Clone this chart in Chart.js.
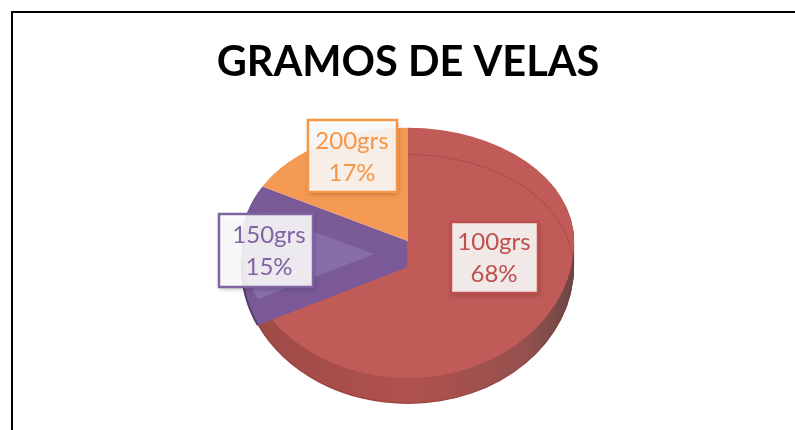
<!DOCTYPE html>
<html lang="en">
<head>
<meta charset="UTF-8">
<title>Gramos de velas</title>
<style>
  html, body { margin: 0; padding: 0; background: #fff; overflow: hidden; }
  #frame { position: absolute; left: 11px; top: 11px; right: -5px; bottom: -5px; border-left: 2px solid #000; border-top: 2px solid #000; }
  canvas { position: absolute; left: 0; top: 0; }
</style>
</head>
<body>
<div id="frame"></div>
<canvas id="chart" width="795" height="430"></canvas>
<script src="https://cdn.jsdelivr.net/npm/chart.js@4"></script>
<script>
  var categories = ['100grs', '150grs', '200grs'];
  var values = [68, 15, 17];

  var faceColors = ['#c05b58', '#7b5a98', '#f59a54'];
  var lineColors = ['#c0504d', '#8064a2', '#f79646'];
  var purpleLight = '#876eab';
  var boxes = [
    { x: 451, y: 222, w: 87, h: 71, textX: 494 },
    { x: 219, y: 214, w: 94, h: 73, textX: 269 },
    { x: 308, y: 120, w: 89, h: 72, textX: 352 }
  ];

  // perspective: the back half of the disc is flatter than the front half
  var backRatio = 113 / 166;
  var frontRatio = 137 / 166;
  var depth = 26;

  function inHalves(ctx, arc, dy, fn) {
    var midY = arc.y + dy;
    [[0, midY, backRatio], [midY, 430 - midY, frontRatio]].forEach(function(h) {
      ctx.save();
      ctx.beginPath();
      ctx.rect(0, h[0], 795, h[1]);
      ctx.clip();
      ctx.translate(arc.x, midY);
      ctx.scale(1, h[2]);
      ctx.translate(-arc.x, -arc.y);
      fn();
      ctx.restore();
    });
  }

  function wedge(ctx, arc) {
    ctx.beginPath();
    ctx.moveTo(arc.x, arc.y);
    ctx.arc(arc.x, arc.y, arc.outerRadius, arc.startAngle, arc.endAngle);
    ctx.closePath();
  }

  var discPlugin = {
    id: 'disc',
    beforeDatasetsDraw: function(chart) {
      var ctx = chart.ctx;
      var arcs = chart.getDatasetMeta(0).data;
      var first = arcs[0];
      var left = first.x - first.outerRadius;
      var right = first.x + first.outerRadius;
      var dy;

      var wallRed = ctx.createLinearGradient(left, 0, right, 0);
      wallRed.addColorStop(0, '#9c4a46');
      wallRed.addColorStop(0.5, '#b0514d');
      wallRed.addColorStop(0.85, '#96514e');
      wallRed.addColorStop(1, '#6a4645');

      // side wall
      for (dy = depth; dy > 0; dy--) {
        inHalves(ctx, first, dy, function() {
          wedge(ctx, arcs[0]);
          ctx.fillStyle = wallRed;
          ctx.fill();
        });
      }

      // top face
      inHalves(ctx, first, 0, function() {
        arcs.forEach(function(arc) { arc.draw(ctx, chart.chartArea); });
      });

      // far rim showing through the top face
      inHalves(ctx, first, depth, function() {
        ctx.beginPath();
        ctx.arc(first.x, first.y, first.outerRadius - 1, arcs[0].startAngle, arcs[0].endAngle);
        ctx.strokeStyle = 'rgba(130,50,50,0.45)';
        ctx.lineWidth = 1;
        ctx.stroke();
      });

      // purple slice is see-through: its cut faces show over the neighbours
      for (dy = depth; dy > 0; dy--) {
        inHalves(ctx, first, dy, function() {
          wedge(ctx, arcs[1]);
          ctx.fillStyle = faceColors[1];
          ctx.fill();
        });
      }
      inHalves(ctx, first, depth, function() {
        ctx.beginPath();
        ctx.arc(first.x, first.y, first.outerRadius, arcs[1].startAngle, arcs[1].endAngle);
        ctx.strokeStyle = '#4f4068';
        ctx.lineWidth = 2;
        ctx.stroke();
      });
      inHalves(ctx, first, 0, function() {
        wedge(ctx, arcs[1]);
        ctx.clip();
        ctx.setTransform(1, 0, 0, 1, 0, 0);
        inHalves(ctx, first, depth, function() {
          wedge(ctx, arcs[1]);
          ctx.fillStyle = purpleLight;
          ctx.fill();
        });
      });
      return false;
    },
    afterDraw: function(chart) {
      var ctx = chart.ctx;
      var total = values.reduce(function(a, b) { return a + b; }, 0);
      boxes.forEach(function(b, i) {
        ctx.save();
        ctx.shadowColor = 'rgba(0,0,0,0.3)';
        ctx.shadowBlur = 5;
        ctx.shadowOffsetX = 1;
        ctx.shadowOffsetY = 2;
        ctx.fillStyle = 'rgba(255,255,255,0.88)';
        ctx.fillRect(b.x, b.y, b.w, b.h);
        ctx.shadowColor = 'transparent';
        ctx.strokeStyle = lineColors[i];
        ctx.lineWidth = 2.5;
        ctx.strokeRect(b.x, b.y, b.w, b.h);
        ctx.fillStyle = lineColors[i];
        ctx.font = '24px Lato';
        ctx.textAlign = 'center';
        ctx.textBaseline = 'middle';
        ctx.fillText(categories[i], b.textX, b.y + b.h / 2 - 15);
        ctx.fillText(Math.round(values[i] / total * 100) + '%', b.textX, b.y + b.h / 2 + 17);
        ctx.restore();
      });
    }
  };

  var ctx = document.getElementById('chart').getContext('2d');
  var chart = new Chart(ctx, {
    type: 'pie',
    data: {
      labels: categories,
      datasets: [{
        data: values,
        backgroundColor: faceColors,
        borderWidth: 0
      }]
    },
    options: {
      responsive: false,
      animation: false,
      layout: { padding: { left: 21, right: 0, top: 0, bottom: 23 } },
      plugins: {
        legend: { display: false },
        title: {
          display: true,
          text: 'GRAMOS DE VELAS',
          color: '#000',
          font: { family: 'Lato', size: 41.5, weight: 'bold' },
          padding: { top: 38, bottom: -13 }
        }
      }
    },
    plugins: [discPlugin]
  });
</script>
</body>
</html>
